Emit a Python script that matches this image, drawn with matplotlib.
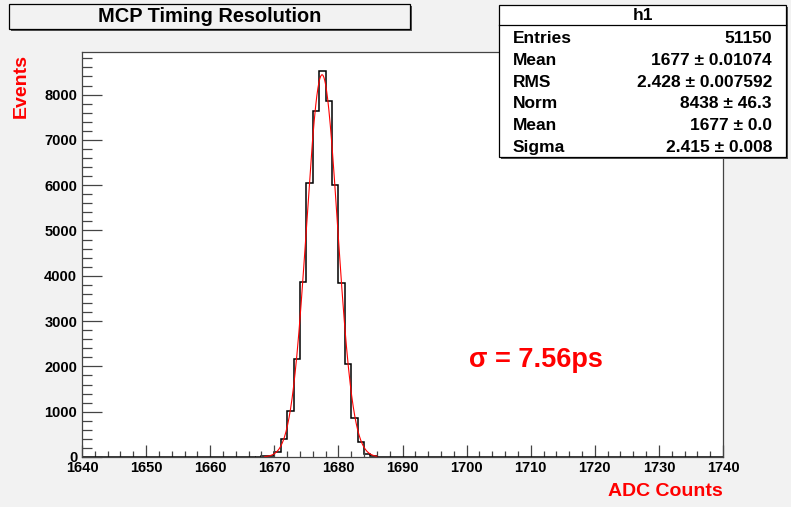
import numpy as np
import matplotlib
matplotlib.use("Agg")
import matplotlib.pyplot as plt
from matplotlib.patches import Rectangle
from matplotlib.ticker import MultipleLocator

plt.rcParams["font.family"] = ["Liberation Sans", "DejaVu Sans"]
plt.rcParams["font.weight"] = "bold"

# histogram contents, 1-count-wide bins starting at each low edge
bin_low = [1667, 1668, 1669, 1670, 1671, 1672, 1673, 1674, 1675, 1676,
           1677, 1678, 1679, 1680, 1681, 1682, 1683, 1684, 1685]
counts = [0, 12, 15, 120, 400, 1017, 2158, 3867, 6040, 7646,
          8515, 7867, 6003, 3838, 2048, 869, 330, 65, 12]

# gaussian fit parameters
fit_norm = 8438
fit_mean = 1677.45
fit_sigma = 2.415
fit_range = (1668.5, 1686.0)

stat_names = ["Entries", "Mean", "RMS", "Norm", "Mean", "Sigma"]
stat_values = ["51150", "1677 \u00b1 0.01074", "2.428 \u00b1 0.007592",
               "8438 \u00b1 46.3", "1677 \u00b1 0.0", "2.415 \u00b1 0.008"]

W, H = 791, 507
def fx(x):
    return x / W
def fy(y):
    return 1 - y / H

fig = plt.figure(figsize=(W / 100, H / 100), dpi=100, facecolor="#f2f2f2")
ax = fig.add_axes([fx(82), fy(457), (723 - 82) / W, (457 - 52) / H])
ax.set_facecolor("white")

edges = np.append(bin_low, bin_low[-1] + 1)
ax.stairs(counts, edges, color="black", lw=1.1, baseline=None)
ax.plot([1640, bin_low[0]], [0, 0], color="black", lw=1.1)
ax.plot([edges[-1], 1740], [0, 0], color="black", lw=1.1)

xf = np.linspace(fit_range[0], fit_range[1], 300)
yf = fit_norm * np.exp(-0.5 * ((xf - fit_mean) / fit_sigma) ** 2)
ax.plot(xf, yf, color="red", lw=0.8)

ax.set_xlim(1640, 1740)
ax.set_ylim(0, 8940)
ax.xaxis.set_major_locator(MultipleLocator(10))
ax.xaxis.set_minor_locator(MultipleLocator(2))
ax.yaxis.set_major_locator(MultipleLocator(1000))
ax.yaxis.set_minor_locator(MultipleLocator(200))
ax.tick_params(axis="both", which="both", direction="in", color="#444444",
               width=0.9, top=False, right=False, labelsize=10.5)
ax.tick_params(axis="y", which="major", length=14.5, pad=3.5)
ax.tick_params(axis="y", which="minor", length=7.2)
ax.tick_params(axis="x", which="major", length=8.7, pad=3)
ax.tick_params(axis="x", which="minor", length=4.3)
for s in ax.spines.values():
    s.set_color("#444444")
    s.set_linewidth(0.9)

ax.text(1710.8, 2150, "\u03c3 = 7.56ps", color="red", fontsize=19.5,
        ha="center", va="center")

fig.text(fx(723), fy(492), "ADC Counts", color="red", fontsize=14,
         ha="right", va="center")
fig.text(fx(21), fy(86), "Events", color="red", fontsize=14,
         rotation=90, ha="center", va="center")

# title box with shadow
fig.add_artist(Rectangle((fx(11), fy(31)), (410 - 9) / W, (29 - 4) / H,
                         facecolor="#555555", edgecolor="none"))
fig.add_artist(Rectangle((fx(9), fy(29)), (410 - 9) / W, (29 - 4) / H,
                         facecolor="#f2f2f2", edgecolor="black", lw=0.9))
fig.text(fx(210), fy(17), "MCP Timing Resolution", fontsize=14.4,
         ha="center", va="center")

# stats box with shadow
bx0, bx1, by0, by1 = 499, 786, 5, 157
fig.add_artist(Rectangle((fx(bx0 + 2), fy(by1 + 2)), (bx1 - bx0) / W,
                         (by1 - by0) / H, facecolor="#555555",
                         edgecolor="none"))
fig.add_artist(Rectangle((fx(bx0), fy(by1)), (bx1 - bx0) / W,
                         (by1 - by0) / H, facecolor="white",
                         edgecolor="black", lw=0.9))
fig.add_artist(plt.Line2D([fx(bx0), fx(bx1)], [fy(25), fy(25)],
                          color="black", lw=0.9))
fig.text(fx((bx0 + bx1) / 2), fy(15), "h1", fontsize=12.5,
         ha="center", va="center")
for i, (name, val) in enumerate(zip(stat_names, stat_values)):
    yy = 38.5 + i * 21.8
    fig.text(fx(513), fy(yy), name, fontsize=12.5, ha="left", va="center")
    fig.text(fx(772), fy(yy), val, fontsize=12.5, ha="right", va="center")

fig.savefig("out.png", dpi=100, facecolor=fig.get_facecolor())
